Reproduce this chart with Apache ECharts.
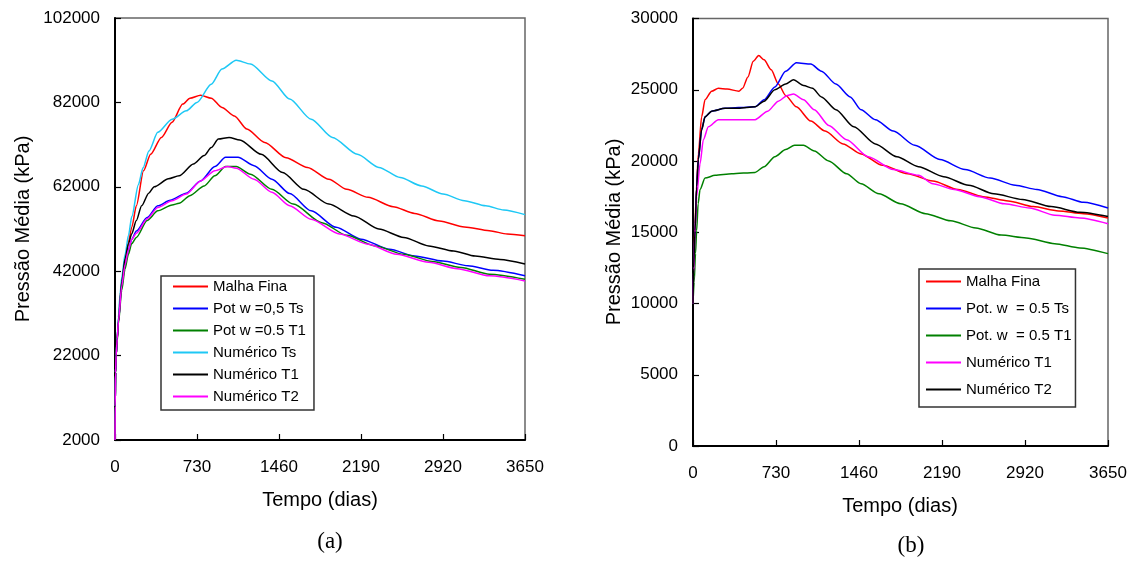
<!DOCTYPE html>
<html><head><meta charset="utf-8">
<script src="https://cdn.jsdelivr.net/npm/echarts@6/dist/echarts.min.js"></script>
<style>
html,body{margin:0;padding:0;background:#fff;}
#a{position:absolute;left:0;top:0;width:567px;height:562px;}
#b{position:absolute;left:567px;top:0;width:567px;height:562px;}
</style>
</head><body><div id="a"></div><div id="b"></div>
<script>
// ---- shared axis values ----
const xTickDays = [0, 730, 1460, 2190, 2920, 3650];
const aYTicks = [2000, 22000, 42000, 62000, 82000, 102000];
const bYTicks = [0, 5000, 10000, 15000, 20000, 25000, 30000];

// ---- chart (a) ----
const aNames = ['Malha Fina', 'Pot w =0,5 Ts', 'Pot w =0.5 T1', 'Numérico Ts', 'Numérico T1', 'Numérico T2'];
const aColors = ['#ff0000', '#0000ff', '#008000', '#1ec8f5', '#000000', '#ff00ff'];
const aMalhaFina = [[0,2000],[2,10000],[5,18000],[10,22000],[20,26000],[30,30000],[45,35500],[60,39500],[90,44500],[120,49000],[150,52500],[190,57500],[254,65800],[317,69700],[413,73700],[508,77300],[603,81600],[667,83000],[762,83700],[857,83000],[952,80800],[1063,78800],[1174,75700],[1333,72500],[1523,68900],[1714,66600],[1904,63800],[2063,61400],[2253,59500],[2476,57300],[2667,55700],[2888,53900],[3110,52500],[3333,51600],[3492,50800],[3650,50400]];
const aPotTs = [[0,2000],[2,10000],[5,18000],[10,22000],[20,26000],[30,30000],[60,38500],[89,43500],[119,47000],[148,49500],[190,51500],[286,54700],[381,57500],[492,58800],[635,60500],[762,63400],[889,66800],[984,69000],[1095,69000],[1238,67000],[1397,63800],[1555,60400],[1746,56300],[1968,52400],[2190,49600],[2444,47200],[2667,45600],[2920,44400],[3142,43300],[3365,42200],[3650,40900]];
const aPotT1 = [[0,2000],[2,10000],[5,18000],[10,22000],[20,25500],[30,29500],[60,37500],[89,42500],[119,46000],[148,48500],[190,50000],[286,54000],[381,56300],[508,57700],[571,58100],[667,59900],[794,62200],[889,64600],[984,66800],[1079,66800],[1206,65000],[1397,61400],[1587,57900],[1841,53500],[2063,50500],[2317,48000],[2571,46000],[2825,44300],[3079,42900],[3333,41300],[3650,40100]];
const aNumTs = [[0,2000],[2,10000],[5,18000],[10,22000],[20,26500],[30,31000],[45,36500],[60,40500],[90,46000],[120,50500],[150,55000],[208,62500],[250,66500],[302,70500],[381,74900],[508,78000],[635,80000],[730,82000],[857,86300],[952,89900],[1079,92000],[1206,91100],[1397,87100],[1555,82800],[1746,78000],[1936,73700],[2158,69700],[2349,66600],[2539,64200],[2730,62200],[2920,60300],[3110,58700],[3301,57500],[3460,56500],[3650,55400]];
const aNumT1 = [[0,2000],[2,10000],[5,18000],[10,22000],[20,26000],[30,30000],[60,39500],[90,45000],[120,48500],[148,50800],[190,54000],[237,57500],[300,60500],[349,62000],[476,63900],[571,64600],[698,67400],[794,69400],[857,71300],[920,73300],[1016,73700],[1111,73100],[1301,69700],[1492,65400],[1682,61400],[1904,57900],[2127,55100],[2349,52000],[2571,50000],[2793,48000],[3015,46800],[3206,45600],[3428,44800],[3650,43700]];
const aNumT2 = [[0,2000],[2,10000],[5,18000],[10,22000],[20,26000],[30,30000],[60,38500],[89,43500],[119,47000],[148,49500],[190,51000],[286,54400],[381,57100],[508,58700],[635,60300],[762,63400],[889,65800],[1000,66800],[1079,66400],[1238,63800],[1397,60700],[1555,57500],[1746,54300],[2000,50800],[2253,48400],[2508,46000],[2793,44100],[3047,42600],[3333,40900],[3650,39700]];

// ---- chart (b) ----
const bNames = ['Malha Fina', 'Pot. w  = 0.5 Ts', 'Pot. w  = 0.5 T1', 'Numérico T1', 'Numérico T2'];
const bColors = ['#ff0000', '#0000ff', '#008000', '#ff00ff', '#000000'];
const bMalhaFina = [[0,10000],[5,12500],[18,15600],[30,18000],[47,20500],[76,23100],[106,24300],[164,24900],[223,25100],[300,25050],[404,24900],[436,25100],[483,25900],[530,27000],[578,27400],[625,27100],[688,26400],[751,25400],[815,24600],[909,23800],[1036,22800],[1162,22100],[1320,21200],[1478,20500],[1667,19700],[1888,19100],[2109,18600],[2330,18000],[2551,17500],[2772,17200],[2993,16800],[3214,16500],[3435,16300],[3650,16000]];
const bPotTs = [[0,10000],[5,12500],[18,15100],[32,18200],[47,20100],[76,22200],[106,23100],[164,23500],[282,23700],[400,23750],[546,23800],[625,24300],[720,25200],[815,26300],[909,26900],[1036,26800],[1130,26300],[1257,25400],[1383,24500],[1478,23600],[1604,22900],[1762,22100],[1951,21100],[2172,20100],[2393,19400],[2614,18800],[2835,18300],[3025,18000],[3246,17500],[3435,17100],[3650,16700]];
const bPotT1 = [[0,10000],[10,11500],[22,13500],[32,15100],[45,17000],[62,18000],[106,18800],[194,19000],[341,19100],[546,19200],[625,19600],[720,20300],[815,20800],[893,21100],[972,21100],[1067,20700],[1194,20000],[1351,19100],[1478,18400],[1636,17700],[1825,17000],[2046,16300],[2267,15800],[2488,15300],[2709,14800],[2930,14600],[3182,14200],[3402,13900],[3650,13500]];
const bNumT1 = [[0,10000],[5,12000],[18,15000],[32,17500],[62,19800],[91,21500],[135,22400],[223,22900],[309,22900],[546,22900],[657,23500],[751,24200],[830,24600],[884,24700],[972,24300],[1067,23600],[1194,22500],[1351,21500],[1541,20300],[1762,19400],[1983,19000],[2109,18400],[2298,18000],[2519,17500],[2740,17000],[2961,16700],[3182,16200],[3402,16000],[3650,15600]];
const bNumT2 = [[0,10000],[5,12500],[18,15100],[32,18200],[47,20100],[76,22200],[106,23100],[164,23500],[282,23700],[400,23700],[546,23800],[625,24200],[720,25000],[815,25400],[884,25700],[972,25300],[1051,25100],[1130,24500],[1257,23600],[1414,22400],[1604,21200],[1793,20300],[1983,19600],[2204,18900],[2425,18300],[2646,17700],[2898,17300],[3150,16800],[3402,16400],[3650,16100]];

const FONT = '"Liberation Sans", Arial, sans-serif';
const SERIF = '"Liberation Serif", "Times New Roman", serif';
const plain = v => String(v);

function build(cfg) {
  const series = cfg.data.map((d, i) => ({
    name: cfg.names[i], type: 'line', data: d, symbol: 'none',
    smooth: 0.25, smoothMonotone: 'x',
    lineStyle: { color: cfg.colors[i], width: 1.5 }, itemStyle: { color: cfg.colors[i] },
    animation: false
  }));
  return {
    animation: false,
    backgroundColor: '#fff',
    grid: { left: cfg.grid.left, top: cfg.grid.top, width: cfg.grid.width, height: cfg.grid.height,
            show: true, borderColor: '#666', borderWidth: 1.5, backgroundColor: 'transparent' },
    xAxis: { type: 'value', min: xTickDays[0], max: xTickDays[xTickDays.length - 1],
             interval: xTickDays[1] - xTickDays[0],
             axisLine: { show: true, lineStyle: { color: '#000', width: 2 } },
             axisTick: { show: true, inside: true, length: 6, lineStyle: { color: '#000', width: 1.2 } },
             axisLabel: { margin: 19, color: '#000', fontSize: 17, fontFamily: FONT, formatter: plain },
             splitLine: { show: false } },
    yAxis: { type: 'value', min: cfg.yTicks[0], max: cfg.yTicks[cfg.yTicks.length - 1],
             interval: cfg.yTicks[1] - cfg.yTicks[0],
             axisLine: { show: true, lineStyle: { color: '#000', width: 2 } },
             axisTick: { show: true, inside: true, length: 6, lineStyle: { color: '#000', width: 1.2 } },
             axisLabel: { margin: 15, color: '#000', fontSize: 17, fontFamily: FONT, formatter: plain },
             splitLine: { show: false } },
    legend: {
      data: cfg.names.map((n, i) => ({ name: n, icon: 'rect', itemStyle: { color: cfg.colors[i] } })),
      orient: 'vertical', left: cfg.legend.left, top: cfg.legend.top,
      itemWidth: 35, itemHeight: 2, itemGap: cfg.legend.gap, padding: cfg.legend.padding,
      borderColor: '#333', borderWidth: 1.5, backgroundColor: '#fff', borderRadius: 0,
      selectedMode: false,
      textStyle: { fontSize: 15, fontFamily: FONT, color: '#000', lineHeight: 15 }
    },
    graphic: [
      { type: 'text', x: cfg.yTitle[0], y: cfg.yTitle[1], rotation: Math.PI / 2,
        style: { text: 'Pressão Média (kPa)', font: '20px ' + FONT, fill: '#000',
                 align: 'center', verticalAlign: 'middle', textAlign: 'center', textVerticalAlign: 'middle' } },
      { type: 'text', x: cfg.xTitle[0], y: cfg.xTitle[1],
        style: { text: 'Tempo (dias)', font: '20px ' + FONT, fill: '#000',
                 align: 'center', verticalAlign: 'middle', textAlign: 'center', textVerticalAlign: 'middle' } },
      { type: 'text', x: cfg.caption[0], y: cfg.caption[1],
        style: { text: cfg.captionText, font: '23px ' + SERIF, fill: '#000',
                 align: 'center', verticalAlign: 'middle', textAlign: 'center', textVerticalAlign: 'middle' } }
    ],
    series: series
  };
}

const chartA = echarts.init(document.getElementById('a'), null, { renderer: 'canvas' });
chartA.setOption(build({
  names: aNames, colors: aColors,
  data: [aMalhaFina, aPotTs, aPotT1, aNumTs, aNumT1, aNumT2],
  yTicks: aYTicks,
  grid: { left: 115, top: 18, width: 410, height: 422 },
  legend: { left: 161, top: 276, gap: 7, padding: [3, 8, 6, 12] },
  yTitle: [23, 229], xTitle: [320, 500], caption: [330, 542], captionText: '(a)'
}));

const chartB = echarts.init(document.getElementById('b'), null, { renderer: 'canvas' });
chartB.setOption(build({
  names: bNames, colors: bColors,
  data: [bMalhaFina, bPotTs, bPotT1, bNumT1, bNumT2],
  yTicks: bYTicks,
  grid: { left: 126, top: 18.5, width: 415, height: 427.5 },
  legend: { left: 352, top: 269, gap: 12, padding: [5, 4, 10, 7] },
  yTitle: [47, 232], xTitle: [333, 506], caption: [344, 546], captionText: '(b)'
}));
</script>
</body></html>
